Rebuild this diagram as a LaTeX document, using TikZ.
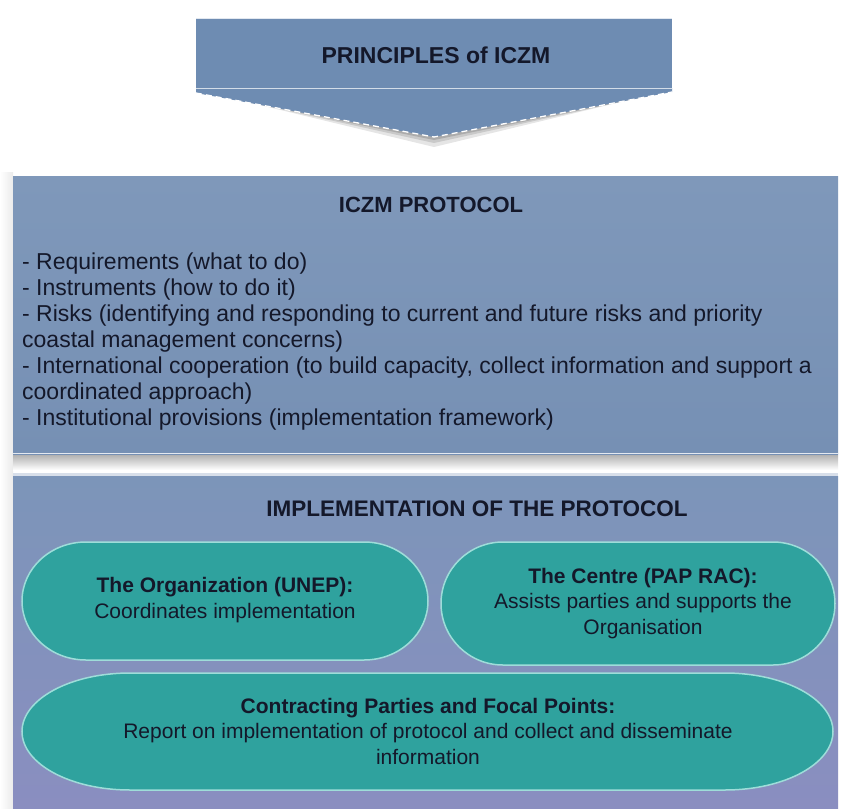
\documentclass[tikz,border=0pt]{standalone}
\usepackage{fontspec}
\setmainfont{Liberation Sans}
\usetikzlibrary{shadings}
\definecolor{bannerblue}{HTML}{6E8CB2}
\definecolor{boxtop}{HTML}{7F98BA}
\definecolor{boxbot}{HTML}{7690B4}
\definecolor{impltop}{HTML}{7C95B9}
\definecolor{implbot}{HTML}{8A8EC0}
\definecolor{tealfill}{HTML}{2FA29E}
\definecolor{tealedge}{HTML}{9EDDD9}
\definecolor{inktext}{HTML}{14182A}
\tikzset{
  titletext/.style={font=\fontsize{22}{26}\selectfont\bfseries, text=inktext, inner sep=0pt},
  bodytext/.style={font=\fontsize{23}{26}\selectfont, text=inktext, inner sep=0pt, align=left},
  ovaltext/.style={font=\fontsize{21}{25.5}\selectfont, text=inktext, inner sep=0pt, align=center},
  oval/.style={fill=tealfill, draw=tealedge, line width=1.5pt},
  ovalshape/.style args={#1/#2/#3/#4/#5/#6}{insert path={(#1+#5,#2) -- (#3-#5,#2)
     arc[start angle=90,end angle=-90,x radius=#5pt,y radius=#6pt] -- (#1+#5,#4)
     arc[start angle=270,end angle=90,x radius=#5pt,y radius=#6pt] -- cycle}},
}
\begin{document}
\begin{tikzpicture}[x=1pt,y=-1pt]
\useasboundingbox (0,0) rectangle (847,809);
\fill[white] (0,0) rectangle (847,809);
% left faint strip shadow
\shade[left color=white, right color=black!8] (0,172) rectangle (13,809);
% ---------- top banner ----------
\foreach \k/\o in {10/0.10,6/0.12,3/0.15}{
  \fill[black, opacity=\o] (196+\k,92) -- (434,137+\k) -- (672-\k,92) -- cycle;
}
\fill[bannerblue] (196,18) rectangle (672,88);
\fill[bannerblue] (196,88) -- (196,93) -- (434,137) -- (672,92) -- (672,88) -- cycle;
\draw[white!80!bannerblue, line width=1pt] (196,18.5) -- (672,18.5);
\draw[white!70!bannerblue, line width=1.2pt] (196,88.5) -- (672,88.5);
\draw[white, line width=1.3pt, dash pattern=on 6pt off 4pt] (196,93) -- (434,137) -- (672,92);
\node[titletext, font=\fontsize{23}{26}\selectfont\bfseries] (principles) at (436,55) {PRINCIPLES of ICZM};
% ---------- ICZM protocol box ----------
\shade[top color=black!30, bottom color=white] (13,455) rectangle (838,470);
\shade[top color=boxtop, bottom color=boxbot] (13,176) rectangle (838,454);
\draw[white!80!boxbot, line width=1.5pt] (13,453.5) -- (838,453.5);
\node[titletext] (prottitle) at (431,205) {ICZM PROTOCOL};
\node[bodytext, anchor=north west] (protbody) at (22,253) {%
- Requirements (what to do)\\
- Instruments (how to do it)\\
- Risks (identifying and responding to current and future risks and priority\\
coastal management concerns)\\
- International cooperation (to build capacity, collect information and support a\\
coordinated approach)\\
- Institutional provisions (implementation framework)};
% ---------- Implementation box ----------
\draw[white!70!impltop, line width=2.5pt] (13,474.5) -- (838,474.5);
\shade[top color=impltop, bottom color=implbot] (13,476) rectangle (838,809);
\node[titletext, font=\fontsize{22.5}{26}\selectfont\bfseries] (impltitle) at (477,509) {IMPLEMENTATION OF THE PROTOCOL};
\draw[oval, ovalshape={22/542/428/660/64/59}];
\draw[oval, ovalshape={441/542/835/665/62/61.5}];
\draw[oval, ovalshape={22/673/833/790/108/58.5}];
\node[ovaltext] (org) at (225,600) {\textbf{The Organization (UNEP):}\\Coordinates implementation};
\node[ovaltext] (centre) at (643,603.5) {\textbf{The Centre (PAP RAC):}\\Assists parties and supports the\\Organisation};
\node[ovaltext] (parties) at (428,731) {\textbf{Contracting Parties and Focal Points:}\\Report on implementation of protocol and collect and disseminate\\information};
\end{tikzpicture}
\end{document}
